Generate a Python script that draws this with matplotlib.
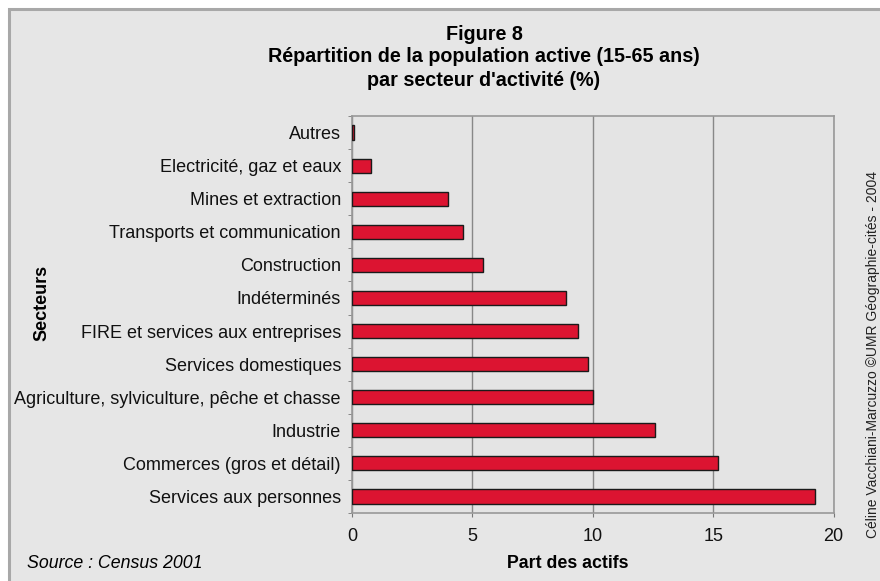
import matplotlib
matplotlib.use("Agg")
import matplotlib.pyplot as plt
from matplotlib.patches import Rectangle

categories = [
    "Autres",
    "Electricité, gaz et eaux",
    "Mines et extraction",
    "Transports et communication",
    "Construction",
    "Indéterminés",
    "FIRE et services aux entreprises",
    "Services domestiques",
    "Agriculture, sylviculture, pêche et chasse",
    "Industrie",
    "Commerces (gros et détail)",
    "Services aux personnes",
]
values = [0.1, 0.8, 4.0, 4.6, 5.45, 8.9, 9.4, 9.8, 10.0, 12.6, 15.2, 19.25]
xticks = [0, 5, 10, 15, 20]

plt.rcParams['font.family'] = ['Liberation Sans', 'DejaVu Sans']

W, H = 880, 581
fig = plt.figure(figsize=(W / 100, H / 100), dpi=100, facecolor="white")
fig.patches.append(Rectangle((9 / W, -0.01), 1.0, 1 - 9 / H + 0.01, transform=fig.transFigure,
                             facecolor="#e6e6e6", edgecolor="#a8a8a8", lw=2.2, zorder=-10))

ax = fig.add_axes([352 / W, 1 - 513 / H, (833.5 - 352) / W, (513 - 116) / H])
ax.set_facecolor("#e4e4e4")
y = list(range(len(categories)))
ax.barh(y, values, height=0.43, color="#dc1431", edgecolor="#1a1a1a", linewidth=1.0, zorder=3)
ax.set_ylim(len(categories) - 0.5, -0.5)
ax.set_xlim(0, 20)
ax.set_yticks(y)
ax.set_yticklabels(categories, fontsize=13, color="#111111")
ax.set_yticks([i + 0.5 for i in range(-1, len(categories))], minor=True)
ax.tick_params(axis="y", which="major", length=0, pad=8)
ax.tick_params(axis="y", which="minor", length=3, color="#777777", direction="out")
ax.set_xticks(xticks)
ax.set_xticklabels([str(t) for t in xticks], fontsize=13, color="#111111")
ax.tick_params(axis="x", length=3, color="#777777", pad=8)
ax.grid(axis="x", color="#888888", linewidth=1.0, zorder=1)
for s in ax.spines.values():
    s.set_color("#999999")
    s.set_linewidth(1.2)

fig.text(484 / W, 1 - 35 / H, "Figure 8", ha="center", va="center", fontsize=14.2, fontweight="bold")
fig.text(484 / W, 1 - 57 / H, "Répartition de la population active (15-65 ans)", ha="center", va="center",
         fontsize=14.2, fontweight="bold")
fig.text(484 / W, 1 - 80 / H, "par secteur d'activité (%)", ha="center", va="center", fontsize=14.2,
         fontweight="bold")
fig.text(568 / W, 1 - 563 / H, "Part des actifs", ha="center", va="center", fontsize=12.8, fontweight="bold")
fig.text(42 / W, 1 - 303 / H, "Secteurs", ha="center", va="center", rotation=90, fontsize=13, fontweight="bold")
fig.text(27 / W, 1 - 563 / H, "Source : Census 2001", ha="left", va="center", fontsize=12.8, style="italic")
fig.text(873 / W, 1 - 355 / H, "Céline Vacchiani-Marcuzzo ©UMR Géographie-cités - 2004", ha="center",
         va="center", rotation=90, fontsize=10, color="#222222")

fig.savefig("out.png", dpi=100, facecolor=fig.get_facecolor())
